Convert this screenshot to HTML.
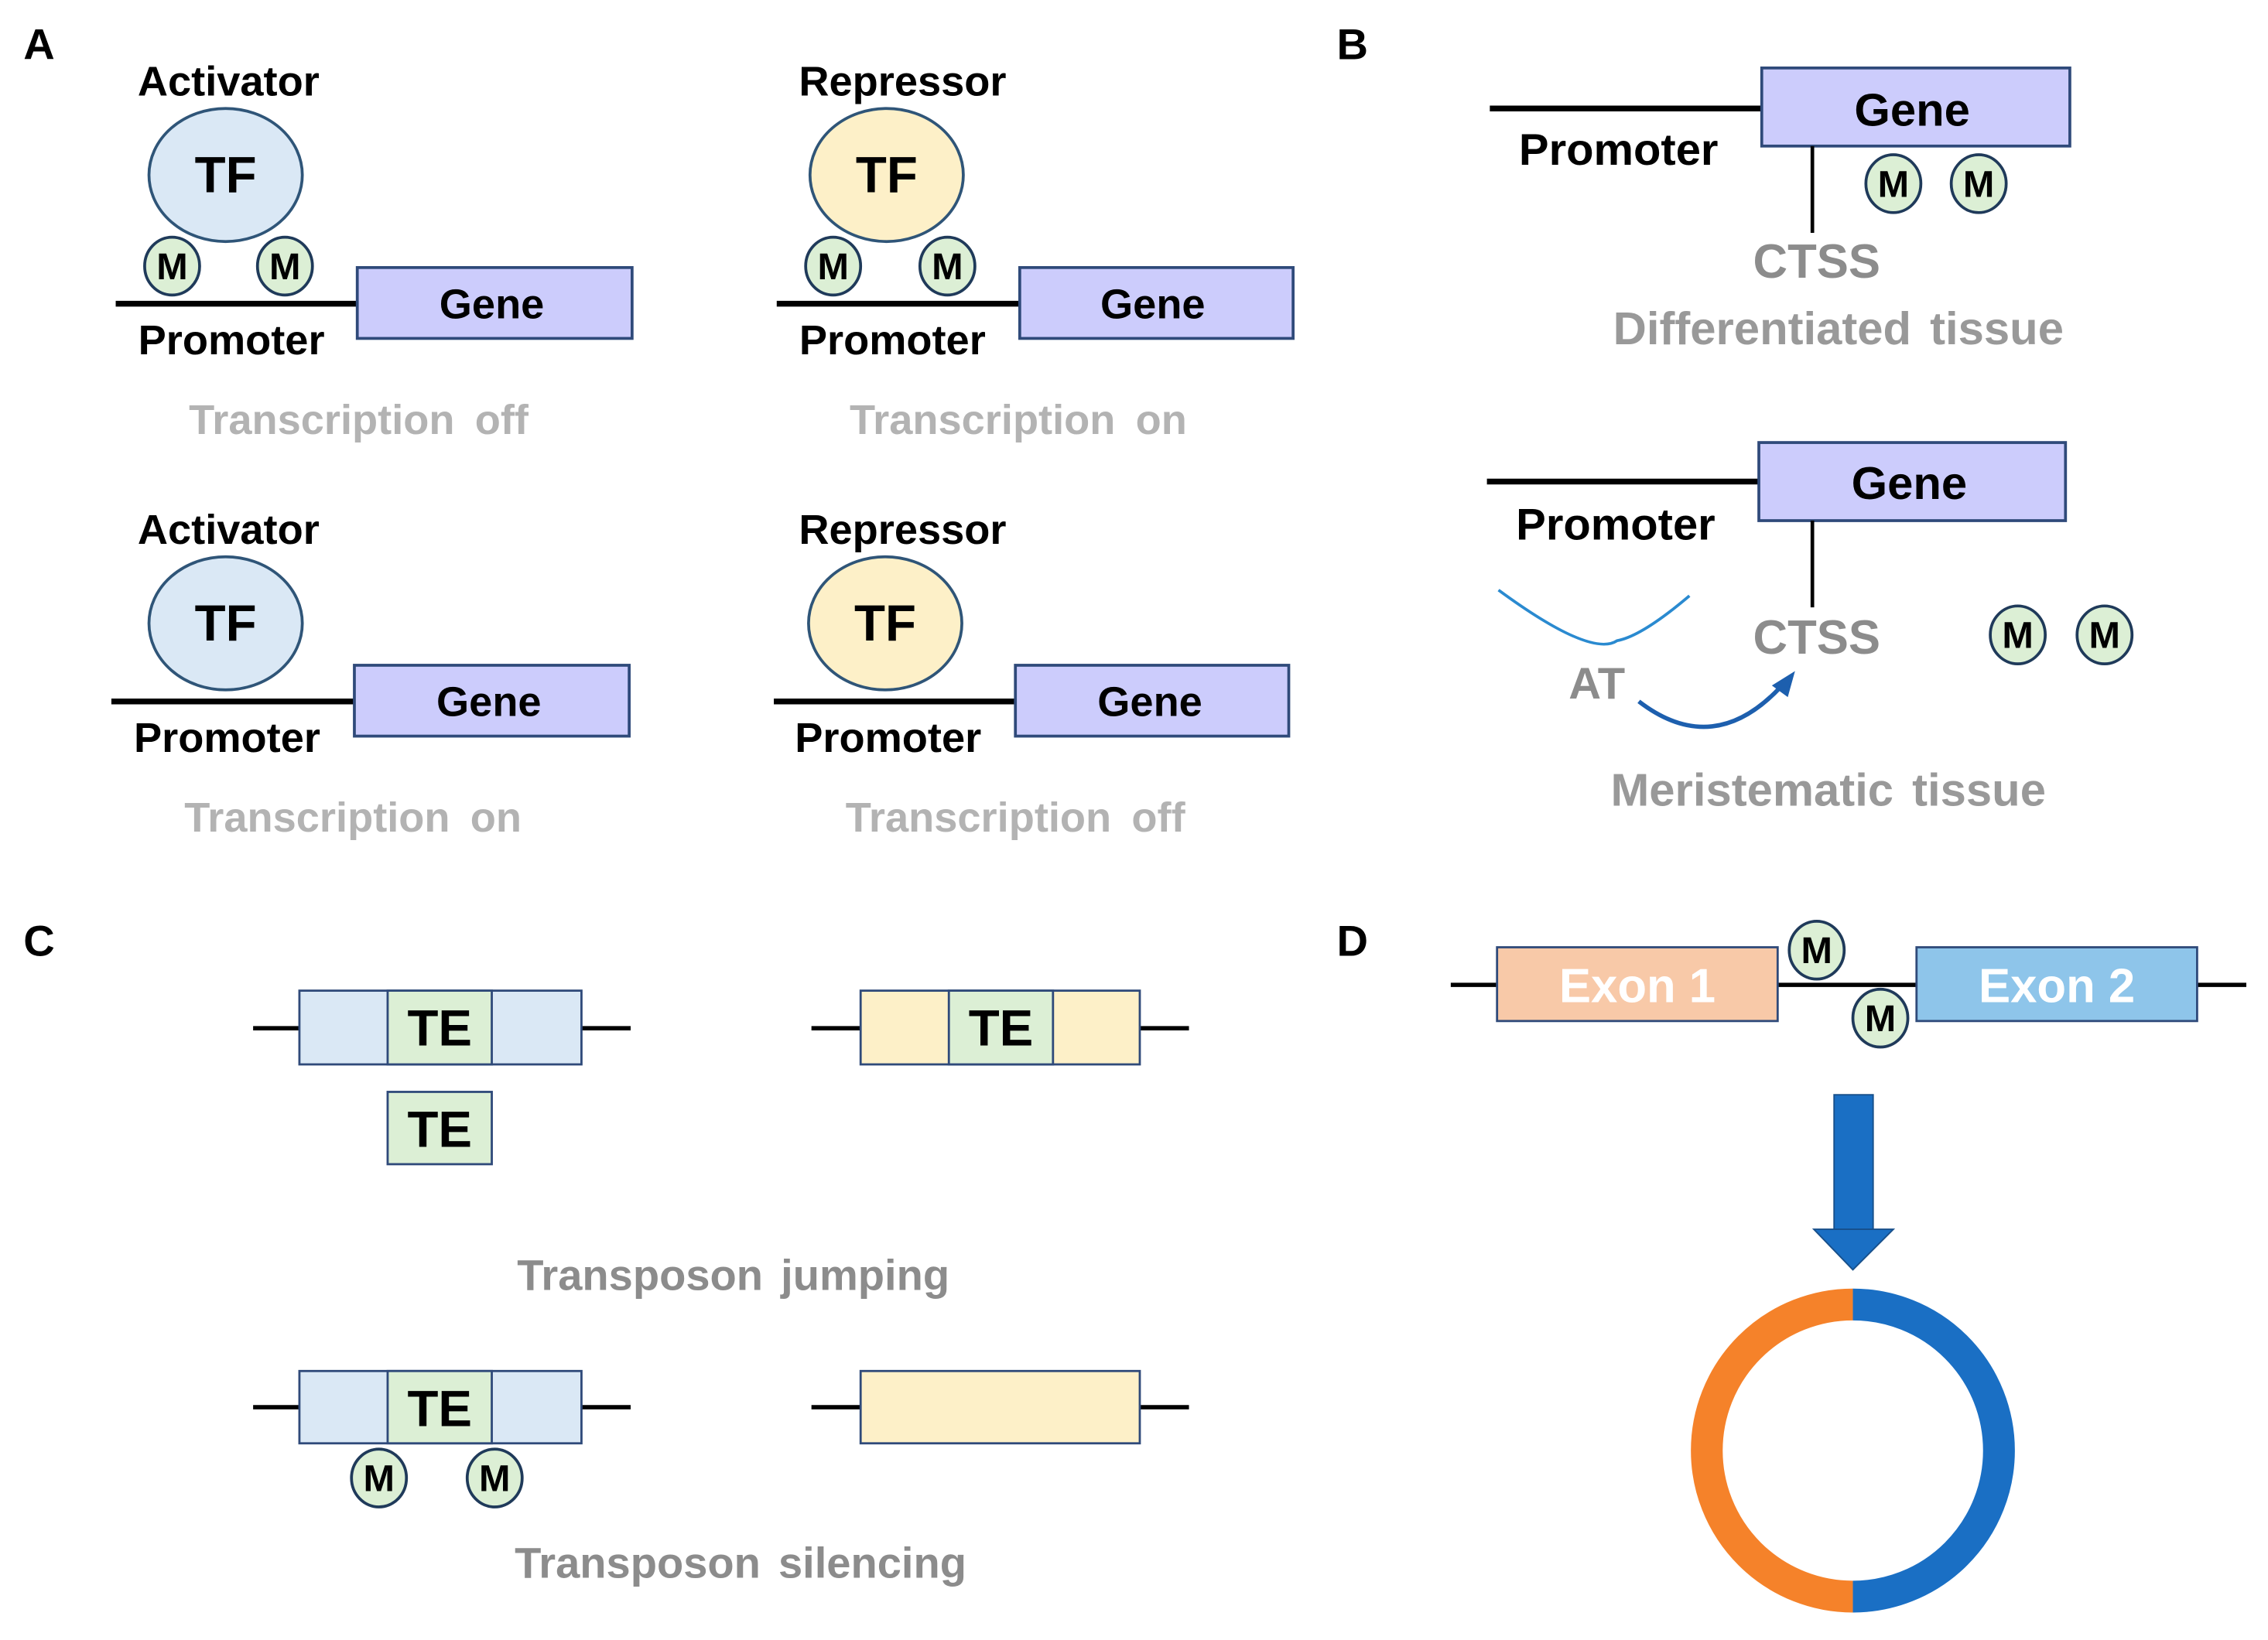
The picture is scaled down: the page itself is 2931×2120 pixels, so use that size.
<!DOCTYPE html>
<html><head><meta charset="utf-8"><style>html,body{margin:0;padding:0;background:#fff}svg{display:block}</style></head>
<body>
<svg width="2931" height="2120" viewBox="0 0 1568 1134" preserveAspectRatio="none" xmlns="http://www.w3.org/2000/svg" font-family="Liberation Sans, Arial, sans-serif" font-weight="bold">
<defs>
<g id="m"><ellipse cx="0" cy="0" rx="19" ry="20" fill="#dcefd5" stroke="#1f3a5a" stroke-width="2"/><text x="0" y="9" font-size="26" text-anchor="middle" fill="#000">M</text></g>
</defs>
<g text-anchor="middle">
<text x="27" y="41" font-size="30">A</text>
<text x="935" y="41" font-size="30">B</text>
<text x="27" y="661" font-size="30">C</text>
<text x="935" y="661" font-size="30">D</text>

<!-- A top-left -->
<text x="158" y="66" font-size="29">Activator</text>
<ellipse cx="156" cy="121" rx="53" ry="46" fill="#dae8f5" stroke="#2f5578" stroke-width="2"/>
<text x="156" y="133" font-size="35">TF</text>
<use href="#m" x="119" y="184"/><use href="#m" x="197" y="184"/>
<line x1="80" y1="210" x2="248" y2="210" stroke="#000" stroke-width="4"/>
<rect x="247" y="185" width="190" height="49" fill="#ccccfc" stroke="#2f4a7a" stroke-width="2"/>
<text x="340" y="220" font-size="29">Gene</text>
<text x="160" y="245" font-size="29">Promoter</text>
<text x="248" y="300" font-size="29" word-spacing="6" fill="#b3b3b3">Transcription off</text>

<!-- A top-right -->
<text x="624" y="66" font-size="29">Repressor</text>
<ellipse cx="613" cy="121" rx="53" ry="46" fill="#fdf0c8" stroke="#2f5578" stroke-width="2"/>
<text x="613" y="133" font-size="35">TF</text>
<use href="#m" x="576" y="184"/><use href="#m" x="655" y="184"/>
<line x1="537" y1="210" x2="706" y2="210" stroke="#000" stroke-width="4"/>
<rect x="705" y="185" width="189" height="49" fill="#ccccfc" stroke="#2f4a7a" stroke-width="2"/>
<text x="797" y="220" font-size="29">Gene</text>
<text x="617" y="245" font-size="29">Promoter</text>
<text x="704" y="300" font-size="29" word-spacing="6" fill="#b3b3b3">Transcription on</text>

<!-- A bottom-left -->
<text x="158" y="376" font-size="29">Activator</text>
<ellipse cx="156" cy="431" rx="53" ry="46" fill="#dae8f5" stroke="#2f5578" stroke-width="2"/>
<text x="156" y="443" font-size="35">TF</text>
<line x1="77" y1="485" x2="246" y2="485" stroke="#000" stroke-width="4"/>
<rect x="245" y="460" width="190" height="49" fill="#ccccfc" stroke="#2f4a7a" stroke-width="2"/>
<text x="338" y="495" font-size="29">Gene</text>
<text x="157" y="520" font-size="29">Promoter</text>
<text x="244" y="575" font-size="29" word-spacing="6" fill="#b3b3b3">Transcription on</text>

<!-- A bottom-right -->
<text x="624" y="376" font-size="29">Repressor</text>
<ellipse cx="612" cy="431" rx="53" ry="46" fill="#fdf0c8" stroke="#2f5578" stroke-width="2"/>
<text x="612" y="443" font-size="35">TF</text>
<line x1="535" y1="485" x2="703" y2="485" stroke="#000" stroke-width="4"/>
<rect x="702" y="460" width="189" height="49" fill="#ccccfc" stroke="#2f4a7a" stroke-width="2"/>
<text x="795" y="495" font-size="29">Gene</text>
<text x="614" y="520" font-size="29">Promoter</text>
<text x="702" y="575" font-size="29" word-spacing="6" fill="#b3b3b3">Transcription off</text>

<!-- B top -->
<line x1="1030" y1="75" x2="1219" y2="75" stroke="#000" stroke-width="4"/>
<rect x="1218" y="47" width="213" height="54" fill="#ccccfc" stroke="#2f4a7a" stroke-width="2"/>
<text x="1322" y="87" font-size="32">Gene</text>
<text x="1119" y="114" font-size="31">Promoter</text>
<line x1="1253" y1="101" x2="1253" y2="161" stroke="#000" stroke-width="2.5"/>
<use href="#m" x="1309" y="127"/><use href="#m" x="1368" y="127"/>
<text x="1256" y="192" font-size="33" fill="#8c8c8c">CTSS</text>
<text x="1271" y="238" font-size="32" word-spacing="4" fill="#999">Differentiated tissue</text>

<!-- B bottom -->
<line x1="1028" y1="333" x2="1217" y2="333" stroke="#000" stroke-width="4"/>
<rect x="1216" y="306" width="212" height="54" fill="#ccccfc" stroke="#2f4a7a" stroke-width="2"/>
<text x="1320" y="345" font-size="32">Gene</text>
<text x="1117" y="373" font-size="31">Promoter</text>
<line x1="1253" y1="360" x2="1253" y2="420" stroke="#000" stroke-width="2.5"/>
<use href="#m" x="1395" y="439"/><use href="#m" x="1455" y="439"/>
<text x="1256" y="452" font-size="33" fill="#8c8c8c">CTSS</text>
<path d="M1036,408 Q1100,455 1118,443 Q1135,440 1168,412" fill="none" stroke="#2a8ad0" stroke-width="2"/>
<text x="1104" y="483" font-size="31" fill="#8c8c8c">AT</text>
<path d="M1133,485 Q1185,525 1232,474" fill="none" stroke="#1d5fae" stroke-width="3"/>
<polygon points="1241,464 1225,474 1236,482" fill="#1d5fae"/>
<text x="1264" y="557" font-size="32" word-spacing="4" fill="#999">Meristematic tissue</text>

<!-- C -->
<line x1="175" y1="711" x2="436" y2="711" stroke="#000" stroke-width="3"/>
<rect x="207" y="685" width="195" height="51" fill="#dae8f5" stroke="#2f4a7a" stroke-width="1.5"/>
<rect x="268" y="685" width="72" height="51" fill="#dcefd5" stroke="#2f4a7a" stroke-width="1.5"/>
<text x="304" y="723" font-size="35">TE</text>
<rect x="268" y="755" width="72" height="50" fill="#dcefd5" stroke="#2f4a7a" stroke-width="1.5"/>
<text x="304" y="793" font-size="35">TE</text>
<line x1="561" y1="711" x2="822" y2="711" stroke="#000" stroke-width="3"/>
<rect x="595" y="685" width="193" height="51" fill="#fdf0c8" stroke="#2f4a7a" stroke-width="1.5"/>
<rect x="656" y="685" width="72" height="51" fill="#dcefd5" stroke="#2f4a7a" stroke-width="1.5"/>
<text x="692" y="723" font-size="35">TE</text>
<text x="507" y="892" font-size="30" word-spacing="4" fill="#8c8c8c">Transposon jumping</text>

<line x1="175" y1="973" x2="436" y2="973" stroke="#000" stroke-width="3"/>
<rect x="207" y="948" width="195" height="50" fill="#dae8f5" stroke="#2f4a7a" stroke-width="1.5"/>
<rect x="268" y="948" width="72" height="50" fill="#dcefd5" stroke="#2f4a7a" stroke-width="1.5"/>
<text x="304" y="986" font-size="35">TE</text>
<use href="#m" x="262" y="1022"/><use href="#m" x="342" y="1022"/>
<line x1="561" y1="973" x2="822" y2="973" stroke="#000" stroke-width="3"/>
<rect x="595" y="948" width="193" height="50" fill="#fdf0c8" stroke="#2f4a7a" stroke-width="1.5"/>
<text x="512" y="1091" font-size="30" word-spacing="4" fill="#8c8c8c">Transposon silencing</text>

<!-- D -->
<line x1="1003" y1="681" x2="1553" y2="681" stroke="#000" stroke-width="3"/>
<rect x="1035" y="655" width="194" height="51" fill="#f8c9a8" stroke="#2f4a7a" stroke-width="1.5"/>
<text x="1132" y="693" font-size="33" fill="#fff">Exon 1</text>
<rect x="1325" y="655" width="194" height="51" fill="#8ec5ea" stroke="#2f4a7a" stroke-width="1.5"/>
<text x="1422" y="693" font-size="33" fill="#fff">Exon 2</text>
<use href="#m" x="1256" y="657"/><use href="#m" x="1300" y="704"/>
<rect x="1268" y="757" width="27" height="94" fill="#1a6fc4" stroke="#174f8a" stroke-width="1"/>
<polygon points="1254,850 1309,850 1281,878" fill="#1a6fc4" stroke="#174f8a" stroke-width="1"/>
<path d="M1281,902 A101,101 0 0 0 1281,1104" fill="none" stroke="#f5822a" stroke-width="22"/>
<path d="M1281,902 A101,101 0 0 1 1281,1104" fill="none" stroke="#1a6fc4" stroke-width="22"/>
</g>
</svg>
</body></html>
